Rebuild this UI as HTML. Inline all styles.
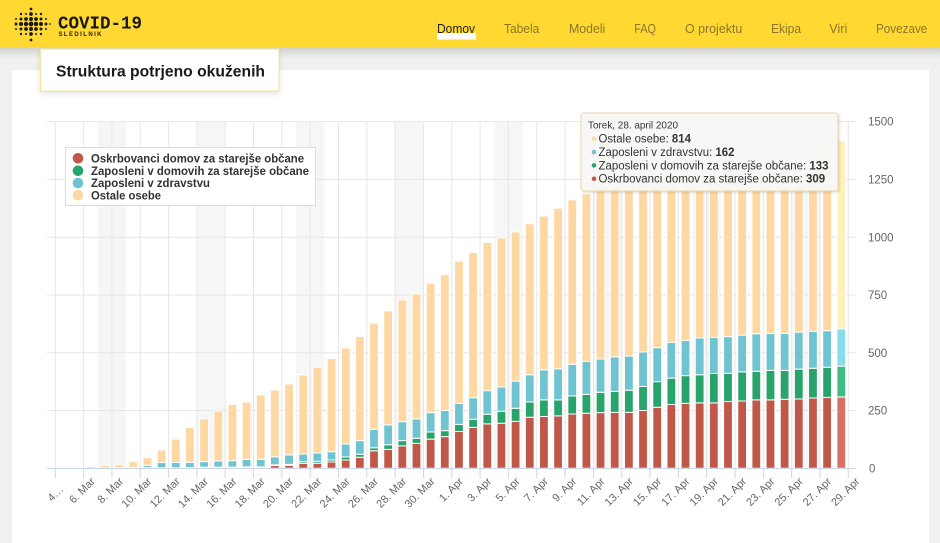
<!DOCTYPE html>
<html><head><meta charset="utf-8"><style>
html,body{margin:0;padding:0;width:940px;height:543px;overflow:hidden;background:#f0f0ee;}
svg{display:block;font-family:"Liberation Sans",sans-serif;}
.bars rect{stroke:#fff;stroke-width:1px;vector-effect:non-scaling-stroke;}
.r{fill:#c0584a}.g{fill:#27a36b}.c{fill:#70c3d0}.o{fill:#fdd8a2}
.hr{fill:#d97163}.hg{fill:#40bc84}.hc{fill:#89dce9}.ho{fill:#fff0bc}
.xl text{font-size:11px;fill:#666;text-anchor:end;}
.yl text{font-size:11.5px;fill:#666;}
.nav text{font-size:13px;fill:#8c7628;}
</style></head><body>
<svg width="940" height="543" viewBox="0 0 940 543" xmlns="http://www.w3.org/2000/svg">
<defs>
<linearGradient id="hs" x1="0" y1="0" x2="0" y2="1"><stop offset="0" stop-color="#000" stop-opacity="0.13"/><stop offset="1" stop-color="#000" stop-opacity="0"/></linearGradient>
<filter id="sh" x="-10%" y="-20%" width="120%" height="160%"><feDropShadow dx="0" dy="2" stdDeviation="3" flood-color="#000" flood-opacity="0.12"/></filter>
<filter id="tsh" x="-5%" y="-10%" width="110%" height="130%"><feDropShadow dx="1" dy="1" stdDeviation="1.2" flood-color="#000" flood-opacity="0.15"/></filter>
</defs>
<!-- background & card -->
<rect x="0" y="0" width="940" height="543" fill="#f0f0ee"/>
<rect x="12" y="70" width="917" height="480" fill="#fff"/>
<!-- header -->
<rect x="0" y="48" width="940" height="10" fill="url(#hs)"/>
<rect x="0" y="0" width="940" height="48" fill="#ffd932"/>
<g fill="#1a1a1a">
<circle cx="31" cy="9" r="1.4"/>
<circle cx="21" cy="14" r="1.2"/><circle cx="26" cy="14" r="1"/><circle cx="31" cy="14" r="1.9"/><circle cx="36" cy="14" r="1"/><circle cx="41" cy="14" r="1.2"/>
<circle cx="16" cy="19" r="1"/><circle cx="21" cy="19" r="1.5"/><circle cx="26" cy="19" r="1.9"/><circle cx="31" cy="19" r="2"/><circle cx="36" cy="19" r="1.9"/><circle cx="41" cy="19" r="1.5"/><circle cx="46" cy="19" r="1"/>
<circle cx="16" cy="24" r="1.5"/><circle cx="21" cy="24" r="2"/><circle cx="26" cy="24" r="2.2"/><circle cx="31" cy="24" r="2.4"/><circle cx="36" cy="24" r="2.2"/><circle cx="41" cy="24" r="2"/><circle cx="46" cy="24" r="1.5"/><circle cx="50" cy="24" r="0.9"/>
<circle cx="16" cy="29" r="1"/><circle cx="21" cy="29" r="1.5"/><circle cx="26" cy="29" r="1.9"/><circle cx="31" cy="29" r="2"/><circle cx="36" cy="29" r="1.9"/><circle cx="41" cy="29" r="1.5"/><circle cx="46" cy="29" r="1"/>
<circle cx="21" cy="34" r="1.2"/><circle cx="26" cy="34" r="1"/><circle cx="31" cy="34" r="1.9"/><circle cx="36" cy="34" r="1"/><circle cx="41" cy="34" r="1.2"/>
<circle cx="31" cy="40" r="1.4"/>
</g>
<text x="58" y="28.3" font-family="Liberation Mono, monospace" font-weight="bold" font-size="18" fill="#1a1a1a" textLength="84" lengthAdjust="spacingAndGlyphs">COVID-19</text>
<text x="58.5" y="36" font-family="Liberation Sans, sans-serif" font-weight="bold" font-size="6" fill="#1a1a1a" textLength="43" lengthAdjust="spacing">SLEDILNIK</text>
<g class="nav">
<rect x="437" y="33" width="39" height="6.5" fill="#fff"/>
<text x="437" y="33" fill="#1f1f1f" style="fill:#1f1f1f" textLength="38" lengthAdjust="spacingAndGlyphs">Domov</text>
<text x="504" y="33" textLength="35.3" lengthAdjust="spacingAndGlyphs">Tabela</text>
<text x="569" y="33" textLength="36.3" lengthAdjust="spacingAndGlyphs">Modeli</text>
<text x="634.3" y="33" textLength="21.7" lengthAdjust="spacingAndGlyphs">FAQ</text>
<text x="685" y="33" textLength="57.3" lengthAdjust="spacingAndGlyphs">O projektu</text>
<text x="771" y="33" textLength="30" lengthAdjust="spacingAndGlyphs">Ekipa</text>
<text x="829.3" y="33" textLength="18" lengthAdjust="spacingAndGlyphs">Viri</text>
<text x="876" y="33" textLength="51.3" lengthAdjust="spacingAndGlyphs">Povezave</text>
</g>
<!-- title box -->
<rect x="40.5" y="49" width="238.5" height="42" fill="#fff" stroke="#f3e39b" stroke-width="1" filter="url(#sh)"/>
<text x="56" y="76.5" font-weight="bold" font-size="16" fill="#1a1a1a" textLength="209" lengthAdjust="spacingAndGlyphs">Struktura potrjeno okuženih</text>

<!-- weekend bands -->
<g fill="#f6f6f6">
<rect x="97.78" y="121.6" width="28.32" height="346.7"/>
<rect x="196.9" y="121.6" width="28.32" height="346.7"/>
<rect x="296.02" y="121.6" width="28.32" height="346.7"/>
<rect x="395.14" y="121.6" width="28.32" height="346.7"/>
<rect x="494.26" y="121.6" width="28.32" height="346.7"/>
<rect x="593.38" y="121.6" width="28.32" height="346.7"/>
<rect x="692.5" y="121.6" width="28.32" height="346.7"/>
<rect x="791.62" y="121.6" width="28.32" height="346.7"/>
</g>
<!-- gridlines -->
<path stroke="#e6e6e6" stroke-width="1" fill="none" d="M47 410.5H856M47 352.75H856M47 294.98H856M47 237.2H856M47 179.4H856M47 121.65H856"/>
<path stroke="#e6e6e6" stroke-width="1" fill="none" d="M55.3 121.6V468.3M83.62 121.6V468.3M111.94 121.6V468.3M140.26 121.6V468.3M168.58 121.6V468.3M196.9 121.6V468.3M225.22 121.6V468.3M253.54 121.6V468.3M281.86 121.6V468.3M310.18 121.6V468.3M338.5 121.6V468.3M366.82 121.6V468.3M395.14 121.6V468.3M423.46 121.6V468.3M451.78 121.6V468.3M480.1 121.6V468.3M508.42 121.6V468.3M536.74 121.6V468.3M565.06 121.6V468.3M593.38 121.6V468.3M621.7 121.6V468.3M650.02 121.6V468.3M678.34 121.6V468.3M706.66 121.6V468.3M734.98 121.6V468.3M763.3 121.6V468.3M791.62 121.6V468.3M819.94 121.6V468.3M848.26 121.6V468.3"/>

<!-- bars -->
<g class="bars" transform="translate(0,468.3) scale(1,-0.2311)">
<rect class="o" x="58.08" y="0" width="8.8" height="1"/>
<rect class="o" x="72.24" y="0" width="8.8" height="3"/>
<rect class="o" x="86.40" y="0" width="8.8" height="8"/>
<rect class="c" x="100.56" y="0" width="8.8" height="1"/><rect class="o" x="100.56" y="1" width="8.8" height="13"/>
<rect class="c" x="114.72" y="0" width="8.8" height="2"/><rect class="o" x="114.72" y="2" width="8.8" height="15"/>
<rect class="g" x="128.88" y="0" width="8.8" height="1"/><rect class="c" x="128.88" y="1" width="8.8" height="3"/><rect class="o" x="128.88" y="4" width="8.8" height="25"/>
<rect class="g" x="143.04" y="0" width="8.8" height="3"/><rect class="c" x="143.04" y="3" width="8.8" height="10"/><rect class="o" x="143.04" y="13" width="8.8" height="33"/>
<rect class="g" x="157.20" y="0" width="8.8" height="2"/><rect class="c" x="157.20" y="2" width="8.8" height="23"/><rect class="o" x="157.20" y="25" width="8.8" height="54"/>
<rect class="g" x="171.36" y="0" width="8.8" height="2"/><rect class="c" x="171.36" y="2" width="8.8" height="23"/><rect class="o" x="171.36" y="25" width="8.8" height="101"/>
<rect class="r" x="185.52" y="0" width="8.8" height="1"/><rect class="g" x="185.52" y="1" width="8.8" height="2"/><rect class="c" x="185.52" y="3" width="8.8" height="23"/><rect class="o" x="185.52" y="26" width="8.8" height="150"/>
<rect class="r" x="199.68" y="0" width="8.8" height="3"/><rect class="g" x="199.68" y="3" width="8.8" height="2"/><rect class="c" x="199.68" y="5" width="8.8" height="24"/><rect class="o" x="199.68" y="29" width="8.8" height="185"/>
<rect class="r" x="213.84" y="0" width="8.8" height="3"/><rect class="g" x="213.84" y="3" width="8.8" height="2"/><rect class="c" x="213.84" y="5" width="8.8" height="27"/><rect class="o" x="213.84" y="32" width="8.8" height="216"/>
<rect class="r" x="228.00" y="0" width="8.8" height="3"/><rect class="g" x="228.00" y="3" width="8.8" height="2"/><rect class="c" x="228.00" y="5" width="8.8" height="28"/><rect class="o" x="228.00" y="33" width="8.8" height="243"/>
<rect class="r" x="242.16" y="0" width="8.8" height="4"/><rect class="g" x="242.16" y="4" width="8.8" height="2"/><rect class="c" x="242.16" y="6" width="8.8" height="33"/><rect class="o" x="242.16" y="39" width="8.8" height="248"/>
<rect class="r" x="256.32" y="0" width="8.8" height="4"/><rect class="g" x="256.32" y="4" width="8.8" height="2"/><rect class="c" x="256.32" y="6" width="8.8" height="33"/><rect class="o" x="256.32" y="39" width="8.8" height="278"/>
<rect class="r" x="270.48" y="0" width="8.8" height="12"/><rect class="g" x="270.48" y="12" width="8.8" height="3"/><rect class="c" x="270.48" y="15" width="8.8" height="35"/><rect class="o" x="270.48" y="50" width="8.8" height="289"/>
<rect class="r" x="284.64" y="0" width="8.8" height="13"/><rect class="g" x="284.64" y="13" width="8.8" height="4"/><rect class="c" x="284.64" y="17" width="8.8" height="41"/><rect class="o" x="284.64" y="58" width="8.8" height="307"/>
<rect class="r" x="298.80" y="0" width="8.8" height="22"/><rect class="g" x="298.80" y="22" width="8.8" height="7"/><rect class="c" x="298.80" y="29" width="8.8" height="33"/><rect class="o" x="298.80" y="62" width="8.8" height="342"/>
<rect class="r" x="312.96" y="0" width="8.8" height="22"/><rect class="g" x="312.96" y="22" width="8.8" height="8"/><rect class="c" x="312.96" y="30" width="8.8" height="37"/><rect class="o" x="312.96" y="67" width="8.8" height="370"/>
<rect class="r" x="327.12" y="0" width="8.8" height="27"/><rect class="g" x="327.12" y="27" width="8.8" height="9"/><rect class="c" x="327.12" y="36" width="8.8" height="36"/><rect class="o" x="327.12" y="72" width="8.8" height="403"/>
<rect class="r" x="341.28" y="0" width="8.8" height="36"/><rect class="g" x="341.28" y="36" width="8.8" height="13"/><rect class="c" x="341.28" y="49" width="8.8" height="56"/><rect class="o" x="341.28" y="105" width="8.8" height="416"/>
<rect class="r" x="355.44" y="0" width="8.8" height="48"/><rect class="g" x="355.44" y="48" width="8.8" height="13"/><rect class="c" x="355.44" y="61" width="8.8" height="59"/><rect class="o" x="355.44" y="120" width="8.8" height="450"/>
<rect class="r" x="369.60" y="0" width="8.8" height="76"/><rect class="g" x="369.60" y="76" width="8.8" height="13"/><rect class="c" x="369.60" y="89" width="8.8" height="80"/><rect class="o" x="369.60" y="169" width="8.8" height="459"/>
<rect class="r" x="383.76" y="0" width="8.8" height="82"/><rect class="g" x="383.76" y="82" width="8.8" height="20"/><rect class="c" x="383.76" y="102" width="8.8" height="86"/><rect class="o" x="383.76" y="188" width="8.8" height="493"/>
<rect class="r" x="397.92" y="0" width="8.8" height="97"/><rect class="g" x="397.92" y="97" width="8.8" height="23"/><rect class="c" x="397.92" y="120" width="8.8" height="82"/><rect class="o" x="397.92" y="202" width="8.8" height="527"/>
<rect class="r" x="412.08" y="0" width="8.8" height="108"/><rect class="g" x="412.08" y="108" width="8.8" height="22"/><rect class="c" x="412.08" y="130" width="8.8" height="84"/><rect class="o" x="412.08" y="214" width="8.8" height="541"/>
<rect class="r" x="426.24" y="0" width="8.8" height="126"/><rect class="g" x="426.24" y="126" width="8.8" height="31"/><rect class="c" x="426.24" y="157" width="8.8" height="84"/><rect class="o" x="426.24" y="241" width="8.8" height="560"/>
<rect class="r" x="440.40" y="0" width="8.8" height="137"/><rect class="g" x="440.40" y="137" width="8.8" height="26"/><rect class="c" x="440.40" y="163" width="8.8" height="87"/><rect class="o" x="440.40" y="250" width="8.8" height="588"/>
<rect class="r" x="454.56" y="0" width="8.8" height="159"/><rect class="g" x="454.56" y="159" width="8.8" height="31"/><rect class="c" x="454.56" y="190" width="8.8" height="91"/><rect class="o" x="454.56" y="281" width="8.8" height="615"/>
<rect class="r" x="468.72" y="0" width="8.8" height="177"/><rect class="g" x="468.72" y="177" width="8.8" height="35"/><rect class="c" x="468.72" y="212" width="8.8" height="94"/><rect class="o" x="468.72" y="306" width="8.8" height="628"/>
<rect class="r" x="482.88" y="0" width="8.8" height="192"/><rect class="g" x="482.88" y="192" width="8.8" height="42"/><rect class="c" x="482.88" y="234" width="8.8" height="102"/><rect class="o" x="482.88" y="336" width="8.8" height="641"/>
<rect class="r" x="497.04" y="0" width="8.8" height="195"/><rect class="g" x="497.04" y="195" width="8.8" height="52"/><rect class="c" x="497.04" y="247" width="8.8" height="105"/><rect class="o" x="497.04" y="352" width="8.8" height="645"/>
<rect class="r" x="511.20" y="0" width="8.8" height="203"/><rect class="g" x="511.20" y="203" width="8.8" height="57"/><rect class="c" x="511.20" y="260" width="8.8" height="117"/><rect class="o" x="511.20" y="377" width="8.8" height="646"/>
<rect class="r" x="525.36" y="0" width="8.8" height="221"/><rect class="g" x="525.36" y="221" width="8.8" height="66"/><rect class="c" x="525.36" y="287" width="8.8" height="118"/><rect class="o" x="525.36" y="405" width="8.8" height="653"/>
<rect class="r" x="539.52" y="0" width="8.8" height="224"/><rect class="g" x="539.52" y="224" width="8.8" height="72"/><rect class="c" x="539.52" y="296" width="8.8" height="130"/><rect class="o" x="539.52" y="426" width="8.8" height="666"/>
<rect class="r" x="553.68" y="0" width="8.8" height="227"/><rect class="g" x="553.68" y="227" width="8.8" height="69"/><rect class="c" x="553.68" y="296" width="8.8" height="135"/><rect class="o" x="553.68" y="431" width="8.8" height="695"/>
<rect class="r" x="567.84" y="0" width="8.8" height="235"/><rect class="g" x="567.84" y="235" width="8.8" height="78"/><rect class="c" x="567.84" y="313" width="8.8" height="137"/><rect class="o" x="567.84" y="450" width="8.8" height="712"/>
<rect class="r" x="582.00" y="0" width="8.8" height="238"/><rect class="g" x="582.00" y="238" width="8.8" height="82"/><rect class="c" x="582.00" y="320" width="8.8" height="142"/><rect class="o" x="582.00" y="462" width="8.8" height="726"/>
<rect class="r" x="596.16" y="0" width="8.8" height="241"/><rect class="g" x="596.16" y="241" width="8.8" height="88"/><rect class="c" x="596.16" y="329" width="8.8" height="144"/><rect class="o" x="596.16" y="473" width="8.8" height="732"/>
<rect class="r" x="610.32" y="0" width="8.8" height="242"/><rect class="g" x="610.32" y="242" width="8.8" height="91"/><rect class="c" x="610.32" y="333" width="8.8" height="149"/><rect class="o" x="610.32" y="482" width="8.8" height="732"/>
<rect class="r" x="624.48" y="0" width="8.8" height="242"/><rect class="g" x="624.48" y="242" width="8.8" height="96"/><rect class="c" x="624.48" y="338" width="8.8" height="148"/><rect class="o" x="624.48" y="486" width="8.8" height="736"/>
<rect class="r" x="638.64" y="0" width="8.8" height="250"/><rect class="g" x="638.64" y="250" width="8.8" height="104"/><rect class="c" x="638.64" y="354" width="8.8" height="150"/><rect class="o" x="638.64" y="504" width="8.8" height="744"/>
<rect class="r" x="652.80" y="0" width="8.8" height="264"/><rect class="g" x="652.80" y="264" width="8.8" height="111"/><rect class="c" x="652.80" y="375" width="8.8" height="147"/><rect class="o" x="652.80" y="522" width="8.8" height="746"/>
<rect class="r" x="666.96" y="0" width="8.8" height="276"/><rect class="g" x="666.96" y="276" width="8.8" height="114"/><rect class="c" x="666.96" y="390" width="8.8" height="155"/><rect class="o" x="666.96" y="545" width="8.8" height="759"/>
<rect class="r" x="681.12" y="0" width="8.8" height="281"/><rect class="g" x="681.12" y="281" width="8.8" height="120"/><rect class="c" x="681.12" y="401" width="8.8" height="152"/><rect class="o" x="681.12" y="553" width="8.8" height="764"/>
<rect class="r" x="695.28" y="0" width="8.8" height="283"/><rect class="g" x="695.28" y="283" width="8.8" height="122"/><rect class="c" x="695.28" y="405" width="8.8" height="159"/><rect class="o" x="695.28" y="564" width="8.8" height="766"/>
<rect class="r" x="709.44" y="0" width="8.8" height="283"/><rect class="g" x="709.44" y="283" width="8.8" height="127"/><rect class="c" x="709.44" y="410" width="8.8" height="156"/><rect class="o" x="709.44" y="566" width="8.8" height="769"/>
<rect class="r" x="723.60" y="0" width="8.8" height="289"/><rect class="g" x="723.60" y="289" width="8.8" height="122"/><rect class="c" x="723.60" y="411" width="8.8" height="159"/><rect class="o" x="723.60" y="570" width="8.8" height="774"/>
<rect class="r" x="737.76" y="0" width="8.8" height="291"/><rect class="g" x="737.76" y="291" width="8.8" height="126"/><rect class="c" x="737.76" y="417" width="8.8" height="159"/><rect class="o" x="737.76" y="576" width="8.8" height="777"/>
<rect class="r" x="751.92" y="0" width="8.8" height="296"/><rect class="g" x="751.92" y="296" width="8.8" height="124"/><rect class="c" x="751.92" y="420" width="8.8" height="162"/><rect class="o" x="751.92" y="582" width="8.8" height="784"/>
<rect class="r" x="766.08" y="0" width="8.8" height="296"/><rect class="g" x="766.08" y="296" width="8.8" height="128"/><rect class="c" x="766.08" y="424" width="8.8" height="160"/><rect class="o" x="766.08" y="584" width="8.8" height="789"/>
<rect class="r" x="780.24" y="0" width="8.8" height="299"/><rect class="g" x="780.24" y="299" width="8.8" height="125"/><rect class="c" x="780.24" y="424" width="8.8" height="160"/><rect class="o" x="780.24" y="584" width="8.8" height="804"/>
<rect class="r" x="794.40" y="0" width="8.8" height="300"/><rect class="g" x="794.40" y="300" width="8.8" height="129"/><rect class="c" x="794.40" y="429" width="8.8" height="160"/><rect class="o" x="794.40" y="589" width="8.8" height="813"/>
<rect class="r" x="808.56" y="0" width="8.8" height="304"/><rect class="g" x="808.56" y="304" width="8.8" height="129"/><rect class="c" x="808.56" y="433" width="8.8" height="160"/><rect class="o" x="808.56" y="593" width="8.8" height="815"/>
<rect class="r" x="822.72" y="0" width="8.8" height="307"/><rect class="g" x="822.72" y="307" width="8.8" height="130"/><rect class="c" x="822.72" y="437" width="8.8" height="159"/><rect class="o" x="822.72" y="596" width="8.8" height="816"/>
<rect class="hr" x="836.88" y="0" width="8.8" height="309"/><rect class="hg" x="836.88" y="309" width="8.8" height="133"/><rect class="hc" x="836.88" y="442" width="8.8" height="162"/><rect class="ho" x="836.88" y="604" width="8.8" height="814"/>
</g>

<!-- x axis -->
<path stroke="#ccd6eb" stroke-width="1" fill="none" d="M47 468.5H856"/>
<path stroke="#ccd6eb" stroke-width="1" fill="none" d="M55.3 468.3V478M83.62 468.3V478M111.94 468.3V478M140.26 468.3V478M168.58 468.3V478M196.9 468.3V478M225.22 468.3V478M253.54 468.3V478M281.86 468.3V478M310.18 468.3V478M338.5 468.3V478M366.82 468.3V478M395.14 468.3V478M423.46 468.3V478M451.78 468.3V478M480.1 468.3V478M508.42 468.3V478M536.74 468.3V478M565.06 468.3V478M593.38 468.3V478M621.7 468.3V478M650.02 468.3V478M678.34 468.3V478M706.66 468.3V478M734.98 468.3V478M763.3 468.3V478M791.62 468.3V478M819.94 468.3V478M848.26 468.3V478"/>
<g class="xl">
<text transform="translate(64,490) rotate(-45)">4…</text>
<text transform="translate(95.62,482) rotate(-45)">6. Mar</text>
<text transform="translate(123.94,482) rotate(-45)">8. Mar</text>
<text transform="translate(152.26,482) rotate(-45)">10. Mar</text>
<text transform="translate(180.58,482) rotate(-45)">12. Mar</text>
<text transform="translate(208.9,482) rotate(-45)">14. Mar</text>
<text transform="translate(237.22,482) rotate(-45)">16. Mar</text>
<text transform="translate(265.54,482) rotate(-45)">18. Mar</text>
<text transform="translate(293.86,482) rotate(-45)">20. Mar</text>
<text transform="translate(322.18,482) rotate(-45)">22. Mar</text>
<text transform="translate(350.5,482) rotate(-45)">24. Mar</text>
<text transform="translate(378.82,482) rotate(-45)">26. Mar</text>
<text transform="translate(407.14,482) rotate(-45)">28. Mar</text>
<text transform="translate(435.46,482) rotate(-45)">30. Mar</text>
<text transform="translate(463.78,482) rotate(-45)">1. Apr</text>
<text transform="translate(492.1,482) rotate(-45)">3. Apr</text>
<text transform="translate(520.42,482) rotate(-45)">5. Apr</text>
<text transform="translate(548.74,482) rotate(-45)">7. Apr</text>
<text transform="translate(577.06,482) rotate(-45)">9. Apr</text>
<text transform="translate(605.38,482) rotate(-45)">11. Apr</text>
<text transform="translate(633.7,482) rotate(-45)">13. Apr</text>
<text transform="translate(662.02,482) rotate(-45)">15. Apr</text>
<text transform="translate(690.34,482) rotate(-45)">17. Apr</text>
<text transform="translate(718.66,482) rotate(-45)">19. Apr</text>
<text transform="translate(746.98,482) rotate(-45)">21. Apr</text>
<text transform="translate(775.3,482) rotate(-45)">23. Apr</text>
<text transform="translate(803.62,482) rotate(-45)">25. Apr</text>
<text transform="translate(831.94,482) rotate(-45)">27. Apr</text>
<text transform="translate(860.26,482) rotate(-45)">29. Apr</text>
</g>
<!-- y labels -->
<g class="yl">
<text x="869" y="472.5">0</text>
<text x="868" y="414.6">250</text>
<text x="868" y="356.8">500</text>
<text x="868" y="299">750</text>
<text x="868" y="241.3">1000</text>
<text x="868" y="183.5">1250</text>
<text x="868" y="125.7">1500</text>
</g>

<!-- legend -->
<rect x="65.5" y="147.5" width="250" height="58" fill="#fff" stroke="#dcdcdc" stroke-width="1"/>
<circle cx="78" cy="158.3" r="5.3" fill="#c0584a"/>
<circle cx="78" cy="170.8" r="5.3" fill="#27a36b"/>
<circle cx="78" cy="183" r="5.3" fill="#70c3d0"/>
<circle cx="78" cy="195.2" r="5.3" fill="#fdd8a2"/>
<g font-weight="bold" font-size="11.5" fill="#333">
<text x="91" y="162.5" textLength="213" lengthAdjust="spacingAndGlyphs">Oskrbovanci domov za starejše občane</text>
<text x="91" y="175" textLength="218" lengthAdjust="spacingAndGlyphs">Zaposleni v domovih za starejše občane</text>
<text x="91" y="187.2" textLength="119" lengthAdjust="spacingAndGlyphs">Zaposleni v zdravstvu</text>
<text x="91" y="199.4" textLength="70" lengthAdjust="spacingAndGlyphs">Ostale osebe</text>
</g>

<!-- tooltip -->
<rect x="581" y="113" width="257" height="78" rx="3" fill="#f8f8f6" fill-opacity="0.97" stroke="#efd6a8" stroke-width="1" filter="url(#tsh)"/>
<text x="588" y="128.5" font-size="10" fill="#333" textLength="90" lengthAdjust="spacingAndGlyphs">Torek, 28. april 2020</text>
<circle cx="594" cy="138.8" r="2.3" fill="#fdd8a2"/>
<circle cx="594" cy="152.1" r="2.3" fill="#70c3d0"/>
<circle cx="594" cy="165.4" r="2.3" fill="#27a36b"/>
<circle cx="594" cy="178.8" r="2.3" fill="#c0584a"/>
<g font-size="11.5" fill="#333">
<text x="598.5" y="142.7" textLength="92.4" lengthAdjust="spacingAndGlyphs">Ostale osebe: <tspan font-weight="bold">814</tspan></text>
<text x="598.5" y="156" textLength="136" lengthAdjust="spacingAndGlyphs">Zaposleni v zdravstvu: <tspan font-weight="bold">162</tspan></text>
<text x="598.5" y="169.3" textLength="230" lengthAdjust="spacingAndGlyphs">Zaposleni v domovih za starejše občane: <tspan font-weight="bold">133</tspan></text>
<text x="598.5" y="182.7" textLength="226.7" lengthAdjust="spacingAndGlyphs">Oskrbovanci domov za starejše občane: <tspan font-weight="bold">309</tspan></text>
</g>
</svg>
</body></html>
